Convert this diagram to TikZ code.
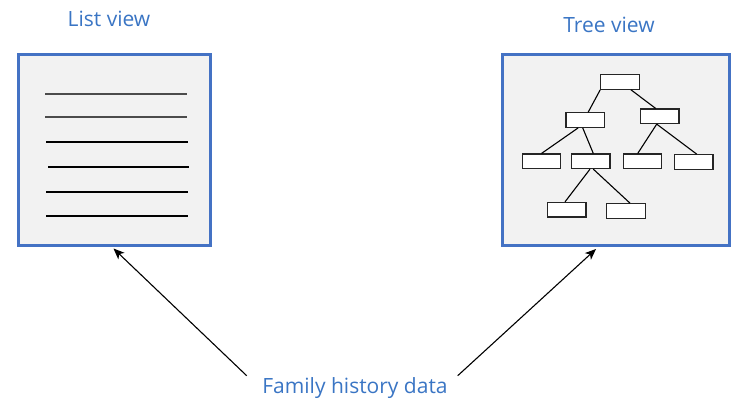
\documentclass[tikz,border=0pt]{standalone}
\usepackage{fontspec}
\setmainfont{Open Sans}
\usetikzlibrary{arrows.meta}
\definecolor{tblue}{RGB}{58,117,196}
\definecolor{bblue}{RGB}{68,114,196}
\definecolor{panel}{RGB}{242,242,242}
\begin{document}
\begin{tikzpicture}[x=1pt,y=-1pt,
  title/.style={text=tblue,font=\fontsize{21}{25}\selectfont,anchor=base,inner sep=0pt},
  panelbox/.style={draw=bblue,line width=3pt,fill=panel,inner sep=0pt},
  tbox/.style={draw=black!85,line width=1.1pt,fill=white,minimum width=38.5pt,minimum height=14.6pt,inner sep=0pt},
  tline/.style={line width=1.1pt,black},
  lline/.style={line width=1.2pt},
  arr/.style={line width=1.1pt,-{Stealth[length=11pt,width=9pt,inset=3pt]}}]
\useasboundingbox (0,0) rectangle (733,400);
% titles
\node[title] (listt) at (109,26) {List view};
\node[title] (treet) at (609,32) {Tree view};
\node[title] (fam) at (355,393) {Family history data};
% panels
\node[panelbox,minimum width=192pt,minimum height=191pt] (listbox) at (114.5,150) {};
\node[panelbox,minimum width=227pt,minimum height=191pt] (treebox) at (616,150) {};
% list lines
\draw[lline,black!70] (45,94) -- (187,94);
\draw[lline,black!70] (45,117) -- (187,117);
\draw[lline] (46,142) -- (188,142);
\draw[lline] (48,167) -- (189,167);
\draw[lline] (46,192) -- (188,192);
\draw[lline] (46,216) -- (188,216);
% tree
\node[tbox] (root) at (620,82) {};
\node[tbox] (l1l) at (585.2,120) {};
\node[tbox] (l1r) at (659.7,116.3) {};
\node[tbox] (a) at (541.5,161.3) {};
\node[tbox] (b) at (590.7,161.3) {};
\node[tbox] (c) at (642.3,161.3) {};
\node[tbox] (d) at (693.7,162) {};
\node[tbox] (e) at (566.7,209.7) {};
\node[tbox] (f) at (626,211) {};
\draw[tline] (root.south west) -- ([xshift=3pt]l1l.north);
\draw[tline] ([xshift=11pt]root.south) -- ([xshift=-4pt]l1r.north);
\draw[tline] ([xshift=-7pt]l1l.south) -- (a.north);
\draw[tline] ([xshift=-2.5pt]l1l.south) -- ([xshift=2.6pt]b.north);
\draw[tline] ([xshift=-3pt]l1r.south) -- ([xshift=-4.6pt]c.north);
\draw[tline] ([xshift=-3pt]l1r.south) -- ([xshift=3pt]d.north);
\draw[tline] ([xshift=-0.7pt]b.south) -- ([xshift=-1.7pt]e.north);
\draw[tline] ([xshift=2.6pt]b.south) -- ([xshift=4pt]f.north);
% arrows
\coordinate (s1) at (246.7,375.7);
\coordinate (s2) at (457.7,375.7);
\draw[arr] (s1) -- ([xshift=-1pt,yshift=-1.5pt]listbox.south);
\draw[arr] (s2) -- ([xshift=-20pt,yshift=-2pt]treebox.south);
\end{tikzpicture}
\end{document}
